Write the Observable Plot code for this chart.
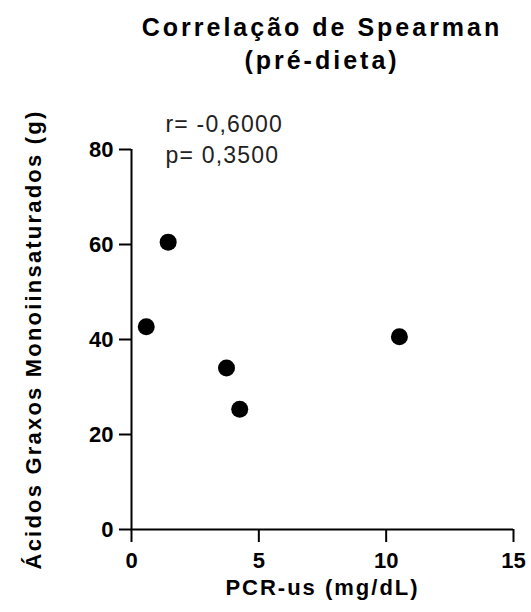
<!DOCTYPE html>
<html>
<head>
<meta charset="utf-8">
<script src="https://cdn.jsdelivr.net/npm/d3@7"></script>
<script src="https://cdn.jsdelivr.net/npm/@observablehq/plot@0.6"></script>
<style>
  html, body { margin: 0; padding: 0; background: #fff; }
  #wrap { width: 531px; height: 612px; position: relative; font-family: "Liberation Sans", Arial, sans-serif; }
  #title { height: 80px; box-sizing: border-box; padding: 11px 18px 0 131px; text-align: center;
           font-size: 25px; font-weight: bold; line-height: 33px; letter-spacing: 3px; color: #000; }
  svg { display: block; overflow: visible; }
</style>
</head>
<body>
<div id="wrap">
  <div id="title">Correlação de Spearman<br>(pré-dieta)</div>
</div>
<script>
// Data
const pcr = [0.58, 1.44, 3.73, 4.25, 10.52];          // PCR-us (mg/dL)
const mufa = [42.7, 60.5, 34.0, 25.3, 40.6];          // Ácidos Graxos Monoiinsaturados (g)
const xTicks = [0, 5, 10, 15];
const yTicks = [0, 20, 40, 60, 80];
const xLabel = "PCR-us (mg/dL)";
const yLabel = "Ácidos Graxos Monoiinsaturados (g)";
const statsText = ["r= -0,6000", "p= 0,3500"];

const points = pcr.map((x, i) => ({x, y: mufa[i]}));

const chart = Plot.plot({
  width: 531,
  height: 532,
  marginLeft: 131,
  marginRight: 18,
  marginTop: 69,
  marginBottom: 83,
  style: {fontFamily: "'Liberation Sans', Arial, sans-serif", color: "#000", background: "#fff", overflow: "visible"},
  x: {domain: [0, 15], axis: null},
  y: {domain: [0, 80], axis: null},
  marks: [
    Plot.ruleX([0], {y1: 0, y2: 80, stroke: "#000", strokeWidth: 2}),
    Plot.ruleY([0], {x1: 0, x2: 15, stroke: "#000", strokeWidth: 2}),
    Plot.axisX(xTicks, {tickSize: 13, tickPadding: 10, fontSize: 22, fontWeight: "bold", strokeWidth: 2, stroke: "#000", fill: "#000", label: null}),
    Plot.axisY(yTicks, {tickSize: 12, tickPadding: 6, fontSize: 22, fontWeight: "bold", strokeWidth: 2, stroke: "#000", fill: "#000", label: null}),
    Plot.dot(points, {x: "x", y: "y", r: 8.5, fill: "#000", stroke: null}),
    Plot.text([xLabel], {frameAnchor: "bottom", dy: 65, fontSize: 22, fontWeight: "bold", fill: "#000"}),
    Plot.text([yLabel], {frameAnchor: "left", textAnchor: "middle", dx: -98, rotate: -90, fontSize: 22, fontWeight: "bold", fill: "#000"}),
    Plot.text([statsText.join("\n")], {frameAnchor: "top-left", textAnchor: "start", lineAnchor: "top", dx: 34, dy: -40, lineHeight: 1.37, fontSize: 23, fill: "#222"})
  ]
});

d3.select(chart).selectAll("text").each(function() {
  const t = this.textContent;
  if (t === xLabel) this.setAttribute("letter-spacing", "2px");
  else if (t === yLabel) this.setAttribute("letter-spacing", "2.2px");
  else if (t.startsWith("r=") || t.startsWith("p=")) this.setAttribute("letter-spacing", "1.2px");
});

document.getElementById("wrap").appendChild(chart);
</script>
</body>
</html>
